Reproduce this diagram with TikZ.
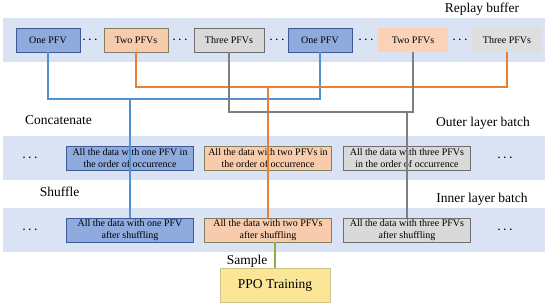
\documentclass[tikz,border=0pt]{standalone}
\usepackage{fontspec}
\setmainfont{Liberation Serif}
\definecolor{bandc}{RGB}{218,227,243}
\definecolor{bluef}{RGB}{143,170,220}
\definecolor{blued}{RGB}{60,90,150}
\definecolor{orangef}{RGB}{248,203,173}
\definecolor{oranged}{RGB}{130,128,96}
\definecolor{grayf}{RGB}{217,217,217}
\definecolor{grayd}{RGB}{110,110,110}
\definecolor{orangel}{RGB}{250,210,183}
\definecolor{grayl}{RGB}{222,222,222}
\definecolor{ppof}{RGB}{250,230,150}
\definecolor{ppod}{RGB}{205,195,140}
\definecolor{bline}{RGB}{80,145,210}
\definecolor{oline}{RGB}{237,125,49}
\definecolor{gline}{RGB}{127,127,127}
\definecolor{grline}{RGB}{140,175,75}
\tikzset{
  band/.style={fill=bandc, draw=none, minimum width=542pt, minimum height=44pt, inner sep=0pt},
  topbox/.style={minimum height=24pt, inner sep=0pt, font=\fontsize{10}{11.5}\selectfont, line width=0.8pt},
  databox/.style={minimum height=24pt, minimum width=127pt, inner sep=0pt, align=center, font=\fontsize{10}{11.5}\selectfont, line width=0.8pt},
  bluebox/.style={fill=bluef, draw=blued},
  orangebox/.style={fill=orangef, draw=oranged},
  graybox/.style={fill=grayf, draw=grayd},
  lbl/.style={font=\fontsize{13.5}{15}\selectfont, inner sep=0pt},
  dotsn/.style={font=\fontsize{10}{10}\selectfont\bfseries, inner sep=0pt},
  conn/.style={line width=1.4pt},
}
\begin{document}
\begin{tikzpicture}[x=1pt,y=-1pt]
\useasboundingbox (0,0) rectangle (550,306);
% bands
\node[band] (rb) at (274,40) {};
\node[band] (ob) at (274,158) {};
\node[band] (ib) at (274,230) {};
% labels
\node[lbl] (lrb) at (482,9) {Replay buffer};
\node[lbl] (lcc) at (58.5,120) {Concatenate};
\node[lbl] (lob) at (483,123.5) {Outer layer batch};
\node[lbl] (lsh) at (59.5,191.5) {Shuffle};
\node[lbl] (lib) at (482,199) {Inner layer batch};
\node[lbl] (lsa) at (247,261) {Sample};
% top boxes
\node[topbox, bluebox, minimum width=64pt] (one1) at (48,40) {One PFV};
\node[topbox, orangebox, minimum width=64pt] (two1) at (136,40) {Two PFVs};
\node[topbox, graybox, minimum width=70pt] (three1) at (229,40) {Three PFVs};
\node[topbox, bluebox, minimum width=64pt] (one2) at (320,40) {One PFV};
\node[topbox, fill=orangel, minimum width=70pt] (two2) at (413,40) {Two PFVs};
\node[topbox, fill=grayl, minimum width=70pt] (three2) at (507,40) {Three PFVs};
% dots top
\node[dotsn] (d1) at (90,40) {.\,\,.\,\,.};
\node[dotsn] (d2) at (180,40) {.\,\,.\,\,.};
\node[dotsn] (d3) at (277,40) {.\,\,.\,\,.};
\node[dotsn] (d4) at (366,40) {.\,\,.\,\,.};
\node[dotsn] (d5) at (460,40) {.\,\,.\,\,.};
% outer boxes
\node[databox, bluebox] (ob1) at (130,158) {All the data with one PFV in\\the order of occurrence};
\node[databox, orangebox] (ob2) at (268,158) {All the data with two PFVs in\\the order of occurrence};
\node[databox, graybox] (ob3) at (407,158) {All the data with three PFVs\\in the order of occurrence};
\node[dotsn] (d6) at (30,158) {.\,\,.\,\,.};
\node[dotsn] (d7) at (505,158) {.\,\,.\,\,.};
% inner boxes
\node[databox, bluebox] (ib1) at (130,230) {All the data with one PFV\\after shuffling};
\node[databox, orangebox] (ib2) at (268,230) {All the data with two PFVs\\after shuffling};
\node[databox, graybox] (ib3) at (407,230) {All the data with three PFVs\\after shuffling};
\node[dotsn] (d8) at (30,230) {.\,\,.\,\,.};
\node[dotsn] (d9) at (505,230) {.\,\,.\,\,.};
% PPO
\node[fill=ppof, draw=ppod, line width=0.8pt, minimum width=110pt, minimum height=34pt, inner sep=0pt, font=\fontsize{13.5}{15}\selectfont] (ppo) at (275,285) {PPO Training};
% junction coordinates
\coordinate (jb) at (130,99);
\coordinate (jo) at (268,87);
\coordinate (jg) at (407,112);
% connectors
\draw[conn, bline] (one1.south) |- (jb) -| (one2.south);
\draw[conn, bline] (jb) -- (ib1.north);
\draw[conn, oline] (two1.south) |- (jo) -| (three2.south);
\draw[conn, oline] (jo) -- (ib2.north);
\draw[conn, gline] (three1.south) |- (two2.south |- jg) -- (two2.south);
\draw[conn, gline] (jg) -- (ib3.north);
\draw[conn, grline] (ppo.north |- ib2.south) -- (ppo.north);
\end{tikzpicture}
\end{document}
